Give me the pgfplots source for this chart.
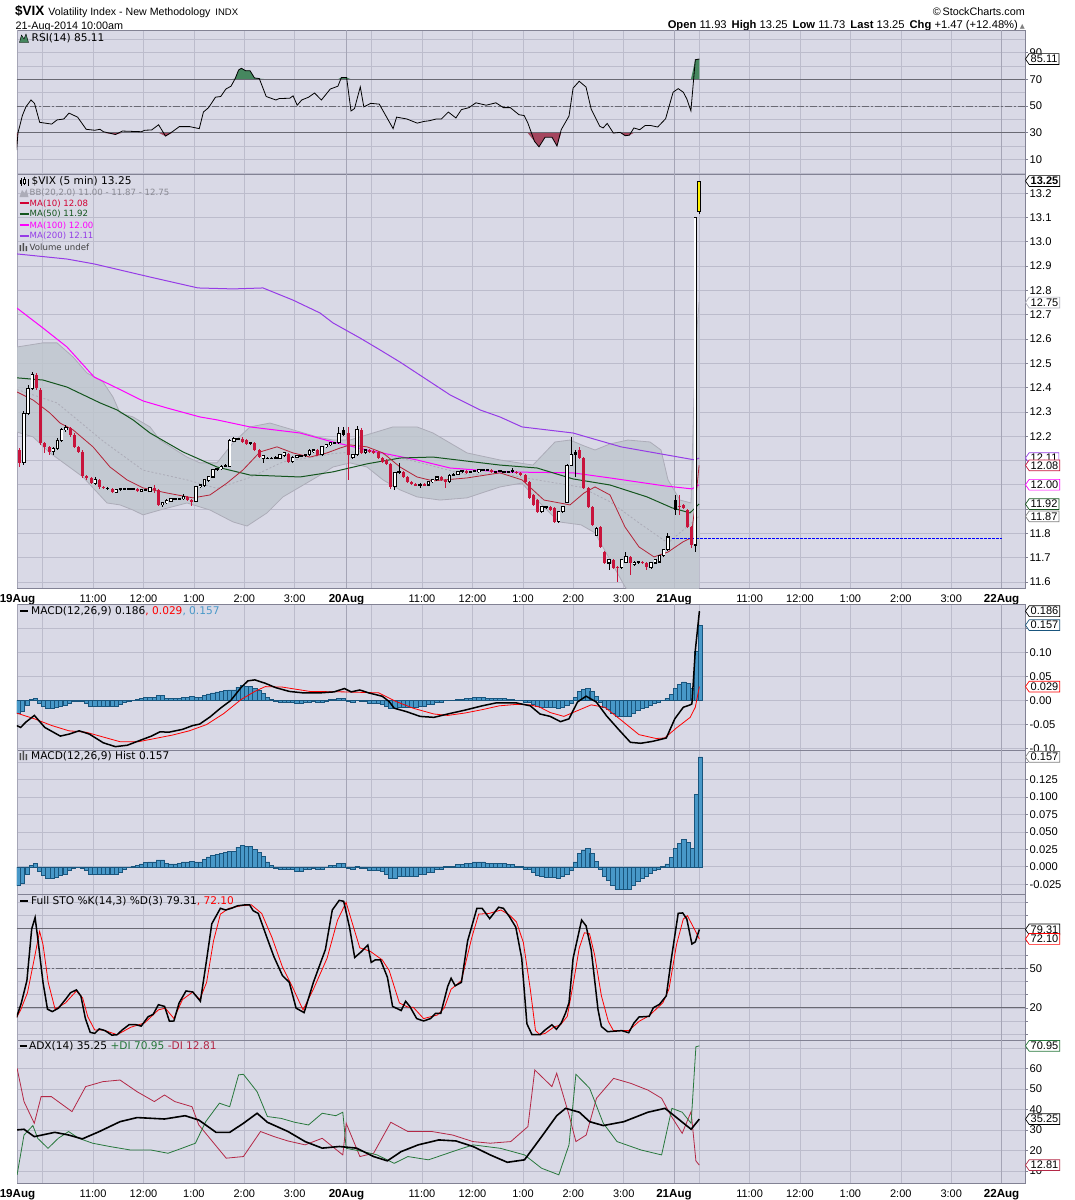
\documentclass[border=0pt]{standalone}
\usepackage{fontspec}
\setmainfont{Liberation Sans}
\newfontfamily\dv{DejaVu Sans}
\usepackage{pgfplots}
\usepackage{pgfplotstable}
\pgfplotsset{compat=1.18}
\usetikzlibrary{shapes.symbols}

\definecolor{bgc}{RGB}{217,217,230}
\definecolor{gridc}{RGB}{188,188,204}
\definecolor{daygrid}{RGB}{165,165,182}
\definecolor{axc}{RGB}{130,130,148}
\definecolor{refc}{RGB}{105,105,115}
\definecolor{candred}{RGB}{200,20,60}
\definecolor{ma10}{RGB}{180,35,55}
\definecolor{ma50}{RGB}{20,85,30}
\definecolor{ma100}{RGB}{255,0,255}
\definecolor{ma200}{RGB}{150,60,230}
\definecolor{bbfill}{RGB}{190,197,205}
\definecolor{bbline}{RGB}{172,172,184}
\definecolor{histfill}{RGB}{72,152,200}
\definecolor{histedge}{RGB}{25,85,125}
\definecolor{rsigreen}{RGB}{70,135,95}
\definecolor{rsired}{RGB}{165,70,95}
\definecolor{digreen}{RGB}{40,120,60}
\definecolor{dired}{RGB}{180,40,70}
\definecolor{legred}{RGB}{210,0,50}

% candles: x open high low close
\pgfplotstableread{
x o h l c
23.8 12.090 12.303 12.081 12.295
28.0 12.295 12.411 12.287 12.398
32.2 12.398 12.464 12.390 12.452
53.2 12.135 12.156 12.123 12.151
57.4 12.151 12.193 12.143 12.184
61.6 12.184 12.234 12.176 12.226
65.8 12.226 12.246 12.217 12.234
95.2 12.007 12.032 11.999 12.020
116.2 11.970 11.983 11.966 11.979
120.4 11.979 11.987 11.974 11.983
124.6 11.983 11.987 11.979 11.983
128.8 11.983 11.987 11.979 11.983
133.0 11.983 11.987 11.979 11.983
141.4 11.974 11.983 11.970 11.979
145.6 11.979 11.983 11.974 11.979
149.8 11.974 11.991 11.970 11.987
162.4 11.917 11.929 11.909 11.925
166.6 11.925 11.942 11.921 11.937
170.8 11.933 11.946 11.929 11.942
175.0 11.942 11.946 11.937 11.942
179.2 11.942 11.946 11.937 11.942
183.4 11.942 11.962 11.937 11.950
196.0 11.933 11.995 11.929 11.991
200.2 11.991 12.003 11.987 11.999
204.4 11.995 12.024 11.991 12.020
208.6 12.016 12.036 12.012 12.032
212.8 12.032 12.065 12.028 12.061
217.0 12.061 12.069 12.057 12.065
221.2 12.065 12.081 12.061 12.077
225.4 12.077 12.086 12.073 12.081
229.6 12.077 12.189 12.073 12.184
233.8 12.180 12.197 12.176 12.189
238.0 12.189 12.193 12.184 12.189
250.6 12.168 12.176 12.164 12.172
263.2 12.110 12.123 12.090 12.119
267.4 12.110 12.114 12.106 12.110
271.6 12.110 12.114 12.106 12.110
275.8 12.110 12.119 12.106 12.114
280.0 12.110 12.127 12.106 12.123
284.2 12.119 12.135 12.114 12.131
292.6 12.094 12.119 12.090 12.114
296.8 12.114 12.123 12.110 12.119
301.0 12.119 12.123 12.114 12.119
305.2 12.119 12.127 12.114 12.123
309.4 12.123 12.147 12.119 12.143
313.6 12.135 12.147 12.131 12.143
322.0 12.123 12.160 12.119 12.156
326.2 12.156 12.168 12.151 12.164
330.4 12.164 12.176 12.160 12.172
334.6 12.172 12.176 12.168 12.172
338.8 12.172 12.238 12.168 12.213
352.8 12.114 12.127 12.106 12.123
357.0 12.123 12.242 12.119 12.226
365.4 12.131 12.147 12.127 12.143
394.8 11.991 12.053 11.979 12.049
399.0 12.049 12.090 12.044 12.053
420.0 11.999 12.007 11.987 12.003
428.4 11.999 12.016 11.995 12.012
432.6 12.012 12.024 12.007 12.020
436.8 12.020 12.036 12.016 12.032
449.4 12.012 12.044 12.007 12.040
453.6 12.040 12.049 12.036 12.044
457.8 12.044 12.057 12.040 12.053
462.0 12.053 12.061 12.049 12.057
470.4 12.053 12.057 12.049 12.053
474.6 12.057 12.061 12.053 12.057
478.8 12.053 12.065 12.049 12.061
483.0 12.061 12.065 12.057 12.061
487.2 12.061 12.065 12.057 12.061
495.6 12.053 12.057 12.049 12.053
499.8 12.057 12.061 12.053 12.057
504.0 12.053 12.057 12.049 12.053
508.2 12.053 12.057 12.049 12.053
512.4 12.053 12.069 12.049 12.057
541.8 11.888 11.913 11.884 11.909
546.0 11.905 11.913 11.900 11.909
558.6 11.847 11.892 11.843 11.888
562.8 11.888 11.913 11.884 11.909
567.0 11.929 12.086 11.925 12.081
571.2 12.081 12.197 12.077 12.123
596.4 11.793 11.826 11.789 11.822
609.0 11.678 11.695 11.649 11.691
621.6 11.658 11.695 11.654 11.691
625.8 11.682 11.723 11.678 11.703
634.2 11.670 11.686 11.666 11.682
638.4 11.678 11.686 11.674 11.682
651.0 11.658 11.682 11.654 11.678
655.2 11.678 11.695 11.674 11.691
659.4 11.682 11.711 11.678 11.707
663.6 11.707 11.736 11.703 11.732
667.8 11.732 11.802 11.728 11.785
695.2 11.752 13.098 11.723 13.098
}\candleup

\pgfplotstableread{
x o h l c
19.6 12.143 12.151 12.073 12.090
36.4 12.452 12.460 12.390 12.398
40.6 12.390 12.398 12.164 12.172
44.8 12.172 12.176 12.131 12.156
49.0 12.156 12.160 12.123 12.135
70.0 12.234 12.238 12.197 12.205
74.2 12.205 12.213 12.151 12.156
78.4 12.156 12.160 12.131 12.135
82.6 12.135 12.143 12.028 12.036
86.8 12.036 12.040 12.020 12.028
91.0 12.028 12.032 12.003 12.007
99.4 12.020 12.024 11.983 11.991
103.6 11.991 11.995 11.983 11.987
112.0 11.983 11.987 11.966 11.970
137.2 11.983 11.987 11.970 11.974
154.0 11.987 11.999 11.966 11.979
158.2 11.979 11.983 11.913 11.917
187.6 11.950 11.954 11.933 11.937
191.8 11.937 11.942 11.913 11.933
242.2 12.189 12.197 12.172 12.176
246.4 12.184 12.189 12.164 12.168
254.8 12.172 12.176 12.139 12.143
259.0 12.143 12.147 12.110 12.114
288.4 12.127 12.131 12.090 12.094
317.8 12.143 12.147 12.119 12.123
348.6 12.213 12.238 12.020 12.123
361.2 12.226 12.234 12.127 12.131
369.6 12.143 12.147 12.131 12.135
373.8 12.139 12.143 12.127 12.131
378.0 12.135 12.139 12.106 12.110
382.2 12.110 12.114 12.090 12.094
386.4 12.102 12.106 12.082 12.086
390.6 12.086 12.090 11.983 11.991
403.2 12.053 12.057 12.028 12.032
407.4 12.032 12.036 12.007 12.012
411.6 12.012 12.016 11.999 12.003
415.8 12.003 12.007 11.995 11.999
424.2 12.003 12.007 11.995 11.999
441.0 12.032 12.036 12.016 12.020
445.2 12.020 12.024 11.987 12.012
466.2 12.057 12.061 12.044 12.049
491.4 12.061 12.065 12.049 12.053
516.6 12.053 12.057 12.044 12.049
520.8 12.049 12.053 12.036 12.040
525.0 12.040 12.044 12.007 12.012
529.2 12.012 12.016 11.942 11.946
533.4 11.958 11.962 11.913 11.917
537.6 11.937 11.942 11.884 11.888
550.2 11.909 11.913 11.892 11.896
554.4 11.905 11.909 11.843 11.847
579.6 12.143 12.156 12.106 12.110
583.8 12.110 12.114 11.983 11.987
588.0 11.987 11.991 11.905 11.909
592.2 11.909 11.913 11.831 11.835
600.6 11.826 11.830 11.740 11.744
604.8 11.723 11.727 11.674 11.678
613.2 11.691 11.695 11.654 11.658
617.4 11.662 11.666 11.600 11.658
630.0 11.703 11.707 11.629 11.678
642.6 11.682 11.686 11.674 11.678
646.8 11.678 11.682 11.649 11.662
679.6 11.913 11.958 11.876 11.909
683.5 11.917 11.921 11.900 11.905
687.4 11.896 11.900 11.822 11.826
691.3 11.826 11.830 11.740 11.752
}\candledn

\pgfplotstableread{
x o h l c
107.8 11.987 11.991 11.979 11.983
343.0 12.226 12.238 12.201 12.205
575.4 12.135 12.143 12.032 12.123
675.8 11.937 11.958 11.876 11.896
}\candleblk

\pgfplotstableread{
x o h l c
699.1 13.123 13.250 13.115 13.250
}\candleyel

\pgfplotstableread{
x v
17 12.567
43 12.584
57 12.584
73 12.526
87 12.460
103 12.423
113 12.361
120 12.295
133 12.279
150 12.238
160 12.184
187 12.114
200 12.090
217 12.090
233 12.172
250 12.238
270 12.254
283 12.238
317 12.197
333 12.184
350 12.184
373 12.213
393 12.238
417 12.238
433 12.213
450 12.172
467 12.131
500 12.102
533 12.081
555 12.176
570 12.184
584 12.160
595 12.143
610 12.168
628 12.184
650 12.176
661 12.143
668 12.020
680 11.937
691 11.925
695.2 12.550
699.1 12.752
}\bbup

\pgfplotstableread{
x v
17 12.217
33 12.197
50 12.131
83 12.032
107 11.925
120 11.917
133 11.896
143 11.876
160 11.896
187 11.925
210 11.896
233 11.847
247 11.830
267 11.884
283 11.950
300 11.991
317 12.032
333 12.073
350 12.090
367 12.073
383 12.020
400 11.979
417 11.950
440 11.937
467 11.946
500 11.991
522 12.007
537 11.937
559 11.847
581 11.835
595 11.802
610 11.691
625 11.580
640 11.505
660 11.485
680 11.505
695.2 11.540
699.1 11.000
}\bblo

% band outline: upper band forward, lower band back
\pgfplotstableread{
x v
17 12.567
43 12.584
57 12.584
73 12.526
87 12.460
103 12.423
113 12.361
120 12.295
133 12.279
150 12.238
160 12.184
187 12.114
200 12.090
217 12.090
233 12.172
250 12.238
270 12.254
283 12.238
317 12.197
333 12.184
350 12.184
373 12.213
393 12.238
417 12.238
433 12.213
450 12.172
467 12.131
500 12.102
533 12.081
555 12.176
570 12.184
584 12.160
595 12.143
610 12.168
628 12.184
650 12.176
661 12.143
668 12.020
680 11.937
691 11.925
695.2 12.550
699.1 12.752
699.1 11.000
695.2 11.540
680 11.505
660 11.485
640 11.505
625 11.580
610 11.691
595 11.802
581 11.835
559 11.847
537 11.937
522 12.007
500 11.991
467 11.946
440 11.937
417 11.950
400 11.979
383 12.020
367 12.073
350 12.090
333 12.073
317 12.032
300 11.991
283 11.950
267 11.884
247 11.830
233 11.847
210 11.896
187 11.925
160 11.896
143 11.876
133 11.896
120 11.917
107 11.925
83 12.032
50 12.131
33 12.197
17 12.217
}\bbpoly

\pgfplotstableread{
x v
17 12.392
57 12.337
103 12.180
143 12.060
187 12.020
217 11.985
250 12.030
283 12.094
333 12.128
367 12.140
417 12.094
467 12.040
500 12.047
537 12.020
581 11.990
610 11.930
640 11.840
668 11.760
699.1 11.870
}\bbmid

\pgfplotstableread{
x v
17 12.950
67 12.929
94 12.909
150 12.855
198 12.810
233 12.806
263 12.810
293 12.760
320 12.707
333 12.666
360 12.604
380 12.555
400 12.505
450 12.370
480 12.308
500 12.279
522 12.238
573 12.213
621 12.156
695 12.102
699.1 12.110
}\maB

\pgfplotstableread{
x v
17 12.727
43 12.645
67 12.567
94 12.444
117 12.398
143 12.345
167 12.316
200 12.279
217 12.267
250 12.238
300 12.213
333 12.176
367 12.143
417 12.102
450 12.069
500 12.053
573 12.049
610 12.028
665 11.995
692 11.983
699.1 12.000
}\maC

\pgfplotstableread{
x v
17 12.440
43 12.431
67 12.402
100 12.337
117 12.308
133 12.267
150 12.213
183 12.135
217 12.073
250 12.040
300 12.032
333 12.053
367 12.086
400 12.110
433 12.114
500 12.081
537 12.069
573 12.024
610 11.999
647 11.950
672 11.905
690 11.884
699.1 11.921
}\maD

\pgfplotstableread{
x v
17 12.382
33 12.349
50 12.295
60 12.254
73 12.226
93 12.156
110 12.073
127 12.020
143 11.987
167 11.966
193 11.946
210 11.958
227 12.007
243 12.061
260 12.135
277 12.156
293 12.131
310 12.114
327 12.131
340 12.151
350 12.164
367 12.156
383 12.131
400 12.073
417 12.032
433 12.016
467 12.028
500 12.049
522 12.020
544 11.937
570 11.917
584 11.966
595 11.991
610 11.958
625 11.826
639 11.744
654 11.703
668 11.723
683 11.765
691 11.781
695.2 11.920
699.1 12.080
}\maE

\pgfplotstableread{
x v
16.6 17.1
18.0 30.0
22.4 42.9
25.9 49.4
31.0 54.5
34.5 52.0
39.7 37.8
51.7 36.5
57.0 39.6
63.8 40.3
69.0 44.7
77.6 41.7
86.2 32.6
94.8 31.9
100.0 32.6
103.4 30.8
115.5 28.7
122.4 31.3
141.4 30.8
144.8 31.9
151.7 32.1
158.6 36.0
165.5 27.5
172.4 30.8
179.3 34.6
189.7 34.6
199.3 33.1
203.4 45.5
208.6 48.8
215.5 56.6
220.7 57.1
225.9 62.7
231.0 64.8
235.2 70.5
238.6 76.9
241.4 78.2
245.5 76.4
250.0 76.4
254.5 71.0
259.3 70.5
266.2 57.1
275.9 54.5
279.3 55.6
289.7 55.8
293.1 57.6
297.2 50.6
301.7 54.5
308.6 56.6
314.5 59.7
321.4 54.5
330.3 62.7
337.9 64.8
341.4 71.3
346.6 71.3
351.0 46.3
354.5 48.1
360.3 64.3
363.8 49.4
370.7 52.0
379.3 51.4
393.1 33.1
396.6 41.7
406.9 40.3
417.2 37.2
424.1 38.5
429.3 39.0
436.2 40.3
441.4 40.3
448.3 45.5
455.9 41.1
461.4 47.3
469.0 48.8
475.9 52.4
486.2 50.6
495.9 52.4
503.4 48.8
510.3 48.8
519.0 43.5
524.1 42.9
527.6 37.8
534.5 23.6
539.0 19.5
545.1 26.7
552.0 26.7
557.0 20.1
561.2 32.3
569.0 42.5
573.1 63.4
579.2 68.5
586.0 64.2
591.2 47.6
599.7 34.9
603.1 33.6
607.2 37.0
613.4 29.8
620.2 30.3
625.3 27.8
629.4 28.2
633.9 33.6
639.7 32.3
645.1 35.4
650.9 35.4
657.7 34.3
665.6 40.5
673.1 60.3
678.2 63.0
683.3 60.3
686.8 55.3
690.9 46.4
695.3 84.6
699.4 85.11
}\rsi

\pgfplotstableread{
x v
16.5 -0.052
20.7 -0.056
25.8 -0.045
34.4 -0.031
44.8 -0.056
60.3 -0.074
68.9 -0.070
79.2 -0.063
89.5 -0.070
103.3 -0.088
115.4 -0.096
127.4 -0.093
141.2 -0.082
151.5 -0.074
160.1 -0.065
168.7 -0.066
182.5 -0.060
192.8 -0.052
199.7 -0.049
210.1 -0.034
220.4 -0.016
230.7 0.000
241.0 0.027
247.9 0.041
254.8 0.043
265.2 0.036
275.5 0.027
289.3 0.019
303.0 0.016
320.2 0.016
334.0 0.018
344.4 0.025
351.2 0.018
359.8 0.022
368.5 0.016
382.2 0.009
389.1 -0.002
394.3 -0.016
406.3 -0.023
420.1 -0.033
433.9 -0.035
447.7 -0.028
464.9 -0.020
482.1 -0.011
495.9 -0.005
516.5 -0.005
530.3 -0.011
540.0 -0.028
550.2 -0.033
560.5 -0.044
569.0 -0.038
577.5 -0.003
586.1 0.009
596.3 -0.003
606.6 -0.032
618.5 -0.060
630.4 -0.087
640.7 -0.089
652.6 -0.085
666.3 -0.078
674.8 -0.038
683.3 -0.014
690.2 -0.009
691.9 -0.007
695.3 0.104
699.4 0.186
}\macd

\pgfplotstableread{
x v
16.5 -0.026
34.4 -0.038
51.7 -0.052
68.9 -0.063
86.1 -0.066
103.3 -0.076
120.5 -0.086
137.7 -0.086
155.0 -0.079
172.2 -0.072
189.4 -0.063
206.6 -0.050
223.8 -0.027
241.0 0.002
254.8 0.019
265.2 0.029
282.4 0.028
309.9 0.019
344.4 0.018
378.8 0.016
396.0 -0.002
413.2 -0.016
433.9 -0.028
447.7 -0.031
464.9 -0.026
482.1 -0.019
499.3 -0.011
516.5 -0.008
530.3 -0.009
540.0 -0.014
550.2 -0.025
563.9 -0.033
577.5 -0.021
591.2 -0.009
604.8 -0.014
621.9 -0.042
639.0 -0.071
656.0 -0.079
664.6 -0.078
676.5 -0.057
690.2 -0.035
695.3 -0.014
699.4 0.029
}\signal

\pgfplotstableread{
x h
18.3 -0.027
22.4 -0.023
27.0 -0.010
31.3 0.002
35.3 0.005
39.3 -0.006
43.6 -0.012
47.8 -0.016
52.2 -0.017
56.5 -0.015
60.6 -0.012
64.9 -0.010
69.2 -0.005
73.5 -0.002
77.8 -0.0005
82.0 -0.002
86.3 -0.005
90.5 -0.011
94.8 -0.011
99.0 -0.011
103.3 -0.011
107.6 -0.011
111.9 -0.011
116.2 -0.011
120.4 -0.008
124.6 -0.004
128.8 -0.001
133.0 0.001
137.2 0.002
141.4 0.004
145.6 0.006
149.8 0.007
154.0 0.007
158.2 0.010
162.4 0.010
166.6 0.005
170.8 0.004
175.0 0.004
179.2 0.005
183.4 0.007
187.6 0.007
191.8 0.008
196.0 0.007
200.2 0.007
204.4 0.011
208.6 0.014
212.8 0.016
217.0 0.018
221.2 0.019
225.4 0.021
229.6 0.022
233.8 0.022
238.0 0.028
242.2 0.031
246.4 0.029
250.6 0.029
254.8 0.025
259.0 0.021
263.2 0.015
267.4 0.007
271.6 0.002
275.8 -0.002
280.0 -0.003
284.2 -0.004
288.4 -0.004
292.6 -0.004
296.8 -0.006
301.0 -0.006
305.2 -0.004
309.4 -0.003
313.6 -0.002
317.8 -0.003
322.0 -0.003
326.2 -0.001
330.4 0.002
334.6 0.002
338.8 0.005
343.0 0.005
348.6 -0.002
352.8 -0.003
357.0 0.001
361.2 -0.002
365.4 -0.002
369.6 -0.005
373.8 -0.005
378.0 -0.005
382.2 -0.007
386.4 -0.011
390.6 -0.017
394.8 -0.017
399.0 -0.014
403.2 -0.014
407.4 -0.014
411.6 -0.014
415.8 -0.014
420.0 -0.011
424.2 -0.011
428.4 -0.008
432.6 -0.008
436.8 -0.004
441.0 -0.004
445.2 0.001
449.4 0.001
453.6 0.001
457.8 0.003
462.0 0.003
466.2 0.005
470.4 0.005
474.6 0.007
478.8 0.007
483.0 0.007
487.2 0.005
491.4 0.005
495.6 0.005
499.8 0.005
503.9 0.005
508.1 0.003
512.3 0.003
516.5 0.001
520.7 0.001
524.9 -0.003
529.1 -0.003
533.3 -0.008
537.5 -0.012
541.7 -0.014
545.9 -0.015
550.1 -0.015
554.3 -0.015
558.4 -0.016
562.6 -0.014
566.8 -0.010
571.0 -0.005
575.1 0.007
579.3 0.019
583.5 0.024
587.7 0.026
591.8 0.019
596.0 0.008
600.2 -0.003
604.4 -0.013
608.5 -0.019
612.7 -0.026
616.9 -0.032
621.1 -0.032
625.2 -0.032
629.4 -0.032
633.6 -0.026
637.8 -0.020
641.9 -0.017
646.1 -0.014
650.3 -0.009
654.5 -0.005
658.6 -0.003
662.8 0.0005
667.0 0.004
671.2 0.013
675.3 0.026
679.5 0.034
683.7 0.039
687.9 0.035
692.0 0.026
696.2 0.103
700.4 0.157
}\hist

\pgfplotstableread{
x v
16.5 12.7
21.3 23.7
26.9 40.6
31.7 79.7
35.1 88.3
37.9 71.9
43.0 39.3
47.5 19.0
52.3 17.2
58.5 19.8
65.4 26.3
70.6 31.5
76.4 33.6
80.9 28.9
85.4 11.9
90.2 1.5
94.7 0.7
99.2 4.1
105.0 2.8
111.9 -0.6
117.1 -0.3
122.2 3.3
129.1 7.3
136.0 7.3
141.2 6.2
148.1 13.3
153.2 15.1
158.4 22.4
164.6 21.1
169.4 9.9
173.9 10.1
179.1 23.7
186.0 32.8
192.8 32.0
200.4 25.0
206.6 56.3
211.8 83.6
220.4 95.3
225.5 94.0
231.4 95.3
237.6 97.2
245.2 97.9
249.6 97.9
253.1 93.5
258.3 91.4
266.9 73.2
273.8 58.9
282.4 44.5
289.3 39.3
296.1 19.8
304.1 16.4
313.4 39.3
325.4 64.1
332.3 94.0
339.2 101.3
343.7 100.6
349.5 81.0
354.7 58.1
360.9 62.2
367.8 67.5
371.2 54.4
375.3 56.3
380.5 56.3
387.4 43.2
392.6 21.1
401.2 18.0
405.6 25.0
409.8 21.1
416.7 11.9
423.6 10.1
430.5 11.9
435.6 15.9
440.8 15.9
447.7 36.2
451.1 42.4
455.2 36.7
461.4 39.3
467.6 70.6
476.9 95.3
482.1 95.3
489.7 87.5
498.6 96.1
503.4 95.3
509.6 88.8
515.8 81.0
521.7 57.6
526.9 8.0
532.0 -0.3
540.0 -0.3
545.1 3.3
551.9 7.2
556.4 3.8
561.2 8.5
565.6 16.2
569.0 23.9
573.1 57.5
576.9 70.4
581.6 86.4
586.1 82.0
591.2 63.9
598.0 18.8
601.4 5.9
607.6 2.0
621.9 2.8
628.7 1.2
633.9 8.5
639.0 13.1
649.2 13.6
653.3 20.1
659.5 22.7
666.3 29.1
671.4 57.5
675.5 78.1
678.2 91.5
682.7 91.8
686.8 87.2
691.9 68.3
695.3 69.9
699.4 79.31
}\stoK

\pgfplotstableread{
x v
16.5 12.7
20.7 18.5
27.5 31.5
34.4 57.6
39.6 77.9
43.0 68.0
48.2 39.3
55.1 19.0
65.4 23.7
76.4 32.8
82.6 27.6
87.8 13.3
94.7 3.3
103.3 3.3
117.1 -0.3
130.9 5.4
144.6 8.6
158.4 18.5
165.3 19.8
173.9 12.0
182.5 26.3
192.8 32.0
199.7 26.3
206.6 39.3
213.5 70.6
220.4 90.9
229.0 95.3
241.0 97.2
251.4 97.9
261.7 91.4
272.0 73.2
282.4 51.0
292.7 35.4
303.0 18.5
313.4 34.1
327.1 57.6
337.5 86.2
346.1 99.8
353.0 82.3
359.8 65.4
370.2 62.8
382.2 56.3
389.1 48.4
399.4 23.7
408.1 20.5
413.2 20.5
423.6 11.9
437.3 14.6
444.2 19.8
451.1 34.1
461.4 40.6
471.8 73.2
478.7 90.9
489.0 91.4
501.0 94.0
509.6 90.1
516.5 84.9
523.4 69.3
530.3 34.1
535.5 2.8
540.0 -0.3
545.1 0.7
553.7 5.4
560.5 7.2
567.3 13.6
574.1 42.0
579.2 65.2
584.4 76.8
589.5 76.1
594.6 60.1
601.4 29.1
608.3 9.8
613.4 2.8
628.7 2.8
639.0 9.8
649.2 14.1
662.9 23.9
669.0 34.3
676.5 67.8
683.3 87.2
687.4 89.7
693.6 80.7
699.4 72.10
}\stoD

\pgfplotstableread{
x v
17.1 30.0
24.0 30.3
34.3 26.7
54.8 28.8
68.6 27.5
82.3 25.6
99.4 29.2
120.0 34.0
137.1 36.0
164.5 35.3
185.1 36.9
198.8 34.8
216.0 28.8
229.7 28.8
243.4 33.2
257.1 38.1
267.4 33.7
288.0 29.2
305.1 24.3
322.2 21.1
339.4 21.9
356.5 21.1
373.6 17.0
387.4 14.9
401.1 19.4
418.2 22.7
438.8 25.1
455.9 24.6
473.0 21.9
490.2 17.8
507.3 14.2
524.5 15.4
541.6 26.7
556.7 36.9
565.6 40.5
579.3 38.6
589.6 34.0
603.3 32.1
623.9 34.0
647.9 38.6
665.0 40.5
675.3 36.5
691.1 30.3
699.3 35.25
}\adx

\pgfplotstableread{
x v
17.1 8.1
24.0 27.5
32.9 32.1
37.7 25.9
48.0 21.0
58.3 25.9
68.6 29.2
78.8 25.9
92.6 23.5
109.7 21.9
130.3 20.2
150.8 20.2
168.0 18.6
181.7 21.0
195.4 23.5
205.7 34.0
219.4 43.0
229.7 41.3
238.6 56.8
243.4 57.1
257.1 48.6
267.4 36.5
281.1 35.6
294.8 33.7
308.5 32.4
322.2 38.1
335.9 36.9
342.8 38.6
346.2 21.0
363.4 19.4
377.1 17.8
394.2 13.7
407.9 17.0
428.5 15.4
452.5 19.4
473.0 22.7
500.5 21.0
524.5 17.8
541.6 11.3
558.8 8.1
569.0 22.7
575.9 57.1
589.6 50.3
603.3 33.2
617.0 24.3
641.0 20.2
661.6 17.8
671.9 40.5
682.2 38.6
691.1 33.2
695.9 70.5
699.3 70.95
}\pdi

\pgfplotstableread{
x v
17.1 60.0
24.0 43.8
34.3 33.2
41.1 46.2
51.4 46.2
72.0 38.9
85.7 51.1
102.8 53.5
120.0 54.3
137.1 48.6
154.3 43.8
164.5 47.0
174.8 43.8
192.0 41.3
198.8 32.4
212.5 24.3
226.2 16.2
243.4 17.0
260.5 29.2
274.2 26.7
287.9 24.6
305.1 22.7
322.2 25.9
342.8 17.8
346.2 33.2
359.9 17.0
373.6 18.6
390.8 33.7
407.9 29.2
431.9 29.2
452.5 27.5
473.0 24.3
490.2 23.5
510.8 24.3
527.9 31.6
534.8 59.2
551.9 51.1
556.7 57.6
569.0 37.3
575.9 24.3
586.2 27.5
596.5 45.4
613.6 55.1
630.7 52.7
647.9 49.4
661.6 45.4
670.5 37.3
682.2 28.3
691.1 38.9
695.9 14.9
699.3 12.81
}\mdi

\pgfplotsset{
  panel/.style={
    scale only axis, width=1008pt, xmin=17, xmax=1025,
    clip mode=individual,
    axis background/.style={fill=bgc},
    axis line style={draw=axc, line width=0.9pt},
    xtick={42.7,93.1,143.5,193.9,244.3,294.7,371.7,422,472.5,523,573.3,623.7,699.2,749.6,800,850.4,900.8,951.2},
    xticklabels={},
    extra x ticks={17.5,346.5,674,1001.6},
    extra x tick labels={},
    extra x tick style={grid=major, major grid style={draw=daygrid, line width=0.9pt}},
    xmajorgrids, ymajorgrids,
    major grid style={draw=gridc, line width=0.6pt},
    minor grid style={draw=gridc, line width=0.6pt},
    x tick style={draw=none},
    ytick pos=right, yticklabel pos=right,
    y tick style={draw=axc, line width=0.6pt},
    tick align=outside, major tick length=3pt, minor tick length=0pt,
    yticklabel style={font=\fontsize{11.2}{13}\selectfont, inner sep=1.5pt},
    xticklabel style={font=\fontsize{11}{13}\selectfont},
  },
  timelabels/.style={
    xticklabels={,11:00,12:00,1:00,2:00,3:00,,11:00,12:00,1:00,2:00,3:00,,11:00,12:00,1:00,2:00,3:00},
    extra x tick labels={\textbf{19Aug},\textbf{20Aug},\textbf{21Aug},\textbf{22Aug}},
    extra x tick style={xticklabel style={font=\fontsize{11.6}{13}\selectfont}},
  },
  wick/.style={draw=none, forget plot, error bars/.cd, y dir=both, y explicit,
    error mark=none, error bar style={draw=#1, line width=0.8pt}},
  body/.style 2 args={draw=none, forget plot, error bars/.cd, y dir=both, y explicit,
    error mark=none, error bar style={draw=#1, line width=#2}},
}
\tikzset{
  vbox/.style={shape=signal, signal to=west, signal pointer angle=110, fill=white,
    line width=0.7pt, inner sep=1.5pt, anchor=west, font=\fontsize{11}{13}\selectfont, text=black},
  lg/.style={anchor=west, inner sep=0pt, font=\dv\fontsize{10.6}{12}\selectfont},
  lgs/.style={anchor=west, inner sep=0pt, font=\dv\fontsize{8.6}{10}\selectfont},
}

\begin{document}
\begin{tikzpicture}
\path[use as bounding box, fill=white] (0pt,0pt) rectangle (1075pt,-1200pt);

% header
\node[anchor=base west, inner sep=0pt] at (15pt,-15pt) {\fontsize{13.5}{15}\selectfont\textbf{\$VIX}\hspace{4pt}\fontsize{10.6}{12}\selectfont Volatility Index - New Methodology\hspace{5pt}\fontsize{9.5}{11}\selectfont INDX};
\node[anchor=base west, inner sep=0pt] at (15.5pt,-29pt) {\fontsize{10.8}{12}\selectfont 21-Aug-2014 10:00am};
\node[anchor=base east, inner sep=0pt] at (1025pt,-15pt) {\fontsize{10.8}{12}\selectfont \textcopyright\,StockCharts.com};
\node[anchor=base east, inner sep=0pt] at (1025pt,-28.5pt) {\fontsize{11.2}{13}\selectfont\textbf{Open} 11.93\hspace{5pt}\textbf{High} 13.25\hspace{5pt}\textbf{Low} 11.73\hspace{5pt}\textbf{Last} 13.25\hspace{5pt}\textbf{Chg} +1.47 (+12.48\%)\,{\dv\fontsize{6.5}{8}\selectfont\color{gray}▲}};

% RSI panel
\begin{axis}[panel, at={(17pt,-30pt)}, anchor=north west, height=144pt,
  ymin=-0.8, ymax=106.8, ytick={10,30,50,70,90}, yticklabels={10,30,50,70,90},
  minor ytick={0,20,40,60,80,100}, yminorgrids]
\addplot[fill=rsigreen, draw=none, forget plot] table[x=x, y expr={max(\thisrow{v},70)}] {\rsi} -- (axis cs:699.4,70) -- (axis cs:16.6,70) -- cycle;
\addplot[fill=rsired, draw=none, forget plot] table[x=x, y expr={min(\thisrow{v},30)}] {\rsi} -- (axis cs:699.4,30) -- (axis cs:16.6,30) -- cycle;
\addplot[refc, line width=1pt, forget plot] coordinates {(17,70) (1025,70)};
\addplot[refc, line width=1pt, forget plot] coordinates {(17,30) (1025,30)};
\addplot[refc, line width=0.8pt, dash pattern=on 7pt off 2pt on 2pt off 2pt, forget plot] coordinates {(17,50) (1025,50)};
\addplot[black, line width=0.8pt] table[x=x, y=v] {\rsi};
\node[vbox, draw=black] at (axis cs:1025,85.11) {85.11};
\end{axis}

% main price panel
\begin{axis}[panel, timelabels, at={(17pt,-174pt)}, anchor=north west, height=414pt,
  ymin=11.575, ymax=13.279,
  ytick={11.6,11.7,11.8,11.9,12.0,12.1,12.2,12.3,12.4,12.5,12.6,12.7,12.8,12.9,13.0,13.1,13.2},
  yticklabels={11.6,11.7,11.8,,,,12.2,12.3,12.4,12.5,12.6,12.7,12.8,12.9,13.0,13.1,13.2}]
\addplot[fill=bbfill, fill opacity=0.8, draw=none, forget plot] table[x=x, y=v] {\bbpoly} -- cycle;
\addplot[bbline, line width=0.8pt] table[x=x, y=v] {\bbup};
\addplot[bbline, line width=0.8pt] table[x=x, y=v] {\bblo};
\addplot[bbline, line width=0.8pt, dash pattern=on 2pt off 2pt] table[x=x, y=v] {\bbmid};
\addplot[ma200, line width=1pt] table[x=x, y=v] {\maB};
\addplot[ma100, line width=1pt] table[x=x, y=v] {\maC};
\addplot[ma50, line width=1pt] table[x=x, y=v] {\maD};
\addplot[ma10, line width=0.8pt] table[x=x, y=v] {\maE};
\addplot[blue, line width=0.9pt, dash pattern=on 2.5pt off 1.5pt] coordinates {(672,11.781) (1002,11.781)};
% wicks
\addplot[wick=black] table[x=x, y expr={(\thisrow{h}+\thisrow{l})/2}, y error expr={(\thisrow{h}-\thisrow{l})/2}] {\candleup};
\addplot[wick=candred] table[x=x, y expr={(\thisrow{h}+\thisrow{l})/2}, y error expr={(\thisrow{h}-\thisrow{l})/2}] {\candledn};
\addplot[wick=black] table[x=x, y expr={(\thisrow{h}+\thisrow{l})/2}, y error expr={(\thisrow{h}-\thisrow{l})/2}] {\candleblk};
\addplot[wick=black] table[x=x, y expr={(\thisrow{h}+\thisrow{l})/2}, y error expr={(\thisrow{h}-\thisrow{l})/2}] {\candleyel};
% bodies
\addplot[body={candred}{3pt}] table[x=x, y expr={(\thisrow{o}+\thisrow{c})/2}, y error expr={max(abs(\thisrow{o}-\thisrow{c})/2,0.002)}] {\candledn};
\addplot[body={black}{3pt}] table[x=x, y expr={(\thisrow{o}+\thisrow{c})/2}, y error expr={max(abs(\thisrow{o}-\thisrow{c})/2,0.002)}] {\candleblk};
\addplot[body={black}{3.4pt}] table[x=x, y expr={(\thisrow{o}+\thisrow{c})/2}, y error expr={abs(\thisrow{o}-\thisrow{c})/2+0.0021}] {\candleup};
\addplot[body={white}{1.8pt}] table[x=x, y expr={(\thisrow{o}+\thisrow{c})/2}, y error expr={max(abs(\thisrow{o}-\thisrow{c})/2-0.0021,0)}] {\candleup};
\addplot[body={black}{3.4pt}] table[x=x, y expr={(\thisrow{o}+\thisrow{c})/2}, y error expr={abs(\thisrow{o}-\thisrow{c})/2+0.0021}] {\candleyel};
\addplot[body={yellow}{1.8pt}] table[x=x, y expr={(\thisrow{o}+\thisrow{c})/2}, y error expr={max(abs(\thisrow{o}-\thisrow{c})/2-0.0021,0)}] {\candleyel};
\node[vbox, draw=black] at (axis cs:1025,13.25) {\textbf{13.25}};
\node[vbox, draw=bbline] at (axis cs:1025,12.75) {12.75};
\node[vbox, draw=ma200] at (axis cs:1025,12.11) {12.11};
\node[vbox, draw=candred] at (axis cs:1025,12.08) {12.08};
\node[vbox, draw=ma100] at (axis cs:1025,12.00) {12.00};
\node[vbox, draw=ma50] at (axis cs:1025,11.92) {11.92};
\node[vbox, draw=gray] at (axis cs:1025,11.87) {11.87};
\end{axis}

% MACD panel
\begin{axis}[panel, at={(17pt,-604pt)}, anchor=north west, height=146pt,
  ymin=-0.103, ymax=0.201, ytick={-0.1,-0.05,0,0.05,0.1,0.15},
  yticklabels={-0.10,-0.05,0.00,0.05,0.10,}]
\addplot[ybar, bar width=4.2, bar shift=0pt, fill=histfill, draw=histedge, line width=0.5pt] table[x=x, y=h] {\hist};
\addplot[red, line width=0.8pt] table[x=x, y=v] {\signal};
\addplot[black, line width=1.5pt] table[x=x, y=v] {\macd};
\node[vbox, draw=black] at (axis cs:1025,0.186) {0.186};
\node[vbox, draw=histedge] at (axis cs:1025,0.157) {0.157};
\node[vbox, draw=red] at (axis cs:1025,0.029) {0.029};
\end{axis}

% MACD histogram panel
\begin{axis}[panel, at={(17pt,-750pt)}, anchor=north west, height=144pt,
  ymin=-0.0389, ymax=0.1669,
  ytick={-0.025,0,0.025,0.05,0.075,0.1,0.125,0.15},
  yticklabels={-0.025,0.000,0.025,0.050,0.075,0.100,0.125,}]
\addplot[ybar, bar width=4.2, bar shift=0pt, fill=histfill, draw=histedge, line width=0.5pt] table[x=x, y=h] {\hist};
\node[vbox, draw=gray] at (axis cs:1025,0.157) {0.157};
\end{axis}

% Full STO panel
\begin{axis}[panel, at={(17pt,-894pt)}, anchor=north west, height=146pt,
  ymin=-4.3, ymax=106.1, ytick={0,10,20,30,40,50,60,70,80,90,100},
  yticklabels={,,20,,,50,,,,,}]
\addplot[refc, line width=1pt, forget plot] coordinates {(17,80) (1025,80)};
\addplot[refc, line width=1pt, forget plot] coordinates {(17,20) (1025,20)};
\addplot[refc, line width=0.8pt, dash pattern=on 7pt off 2pt on 2pt off 2pt, forget plot] coordinates {(17,50) (1025,50)};
\addplot[red, line width=0.8pt] table[x=x, y=v] {\stoD};
\addplot[black, line width=1.5pt] table[x=x, y=v] {\stoK};
\node[vbox, draw=black] at (axis cs:1025,79.31) {79.31};
\node[vbox, draw=red] at (axis cs:1025,72.10) {72.10};
\end{axis}

% ADX panel
\begin{axis}[panel, timelabels, at={(17pt,-1040pt)}, anchor=north west, height=143pt,
  ymin=4.1, ymax=73.8, ytick={10,20,30,40,50,60,70}, yticklabels={10,20,30,40,50,60,}]
\addplot[dired, line width=0.8pt] table[x=x, y=v] {\mdi};
\addplot[digreen, line width=0.8pt] table[x=x, y=v] {\pdi};
\addplot[black, line width=1.6pt] table[x=x, y=v] {\adx};
\node[vbox, draw=digreen] at (axis cs:1025,70.95) {70.95};
\node[vbox, draw=black] at (axis cs:1025,35.25) {35.25};
\node[vbox, draw=dired] at (axis cs:1025,12.81) {12.81};
\end{axis}

% panel legends
\fill[rsigreen, draw=black, line width=0.4pt] (19.5pt,-42.5pt) -- (21.5pt,-35pt) -- (24pt,-39pt) -- (26pt,-34pt) -- (28.5pt,-42.5pt) -- cycle;
\node[lg] at (31.5pt,-38pt) {RSI(14) 85.11};

\draw[black, line width=0.7pt] (21pt,-178pt) -- (21pt,-186pt) (24.5pt,-177pt) -- (24.5pt,-185pt) (28pt,-179pt) -- (28pt,-186pt);
\fill[black] (20pt,-180pt) rectangle (22pt,-184pt);
\draw[black, fill=white, line width=0.5pt] (23.5pt,-179pt) rectangle (25.5pt,-183pt);
\node[lg] at (31.5pt,-181.7pt) {\$VIX (5 min) 13.25};
\fill[bbline] (19.5pt,-197pt) -- (22pt,-190pt) -- (24.5pt,-193pt) -- (26.5pt,-189pt) -- (28.5pt,-197pt) -- cycle;
\node[lgs, text=bbline!80!black] at (29.5pt,-192.7pt) {BB(20,2.0) 11.00 - 11.87 - 12.75};
\draw[legred, line width=2pt] (19.5pt,-203.3pt) -- (28.5pt,-203.3pt);
\node[lgs, text=legred] at (29.5pt,-203.3pt) {MA(10) 12.08};
\draw[ma50, line width=2pt] (19.5pt,-214pt) -- (28.5pt,-214pt);
\node[lgs, text=ma50] at (29.5pt,-214pt) {MA(50) 11.92};
\draw[ma100, line width=2pt] (19.5pt,-225.3pt) -- (28.5pt,-225.3pt);
\node[lgs, text=ma100] at (29.5pt,-225.3pt) {MA(100) 12.00};
\draw[ma200, line width=2pt] (19.5pt,-236pt) -- (28.5pt,-236pt);
\node[lgs, text=ma200] at (29.5pt,-236pt) {MA(200) 12.11};
\fill[black!70] (19.5pt,-251pt) rectangle (21pt,-245pt) (22.5pt,-251pt) rectangle (24pt,-243pt) (25.5pt,-251pt) rectangle (27pt,-246pt);
\node[lgs, text=black!75] at (29.5pt,-247.3pt) {Volume undef};

\draw[black, line width=2pt] (20pt,-611.3pt) -- (28pt,-611.3pt);
\node[lg] at (31pt,-611.3pt) {MACD(12,26,9) 0.186{\color{red}, 0.029}{\color{histfill}, 0.157}};
\fill[black!70] (19.5pt,-760pt) rectangle (21pt,-753pt) (22.5pt,-760pt) rectangle (24pt,-751pt) (25.5pt,-760pt) rectangle (27pt,-754pt);
\node[lg] at (31pt,-756pt) {MACD(12,26,9) Hist 0.157};
\draw[black, line width=2pt] (20pt,-901pt) -- (28pt,-901pt);
\node[lg] at (31pt,-901pt) {Full STO \%K(14,3) \%D(3) 79.31{\color{red}, 72.10}};
\draw[black, line width=2pt] (19.5pt,-1045.7pt) -- (26.5pt,-1045.7pt);
\node[lg] at (28.8pt,-1045.7pt) {ADX(14) 35.25 {\color{digreen}+DI 70.95} {\color{dired}-DI 12.81}};
\end{tikzpicture}
\end{document}
